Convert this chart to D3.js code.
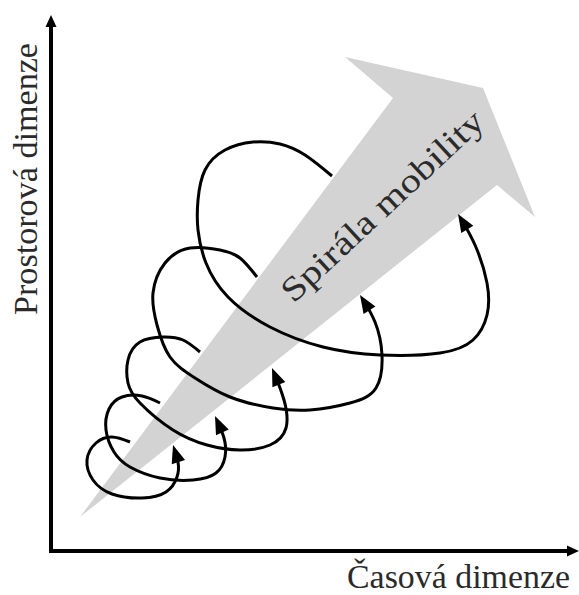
<!DOCTYPE html>
<html>
<head>
<meta charset="utf-8">
<script src="https://cdn.jsdelivr.net/npm/d3@7"></script>
<style>
  html, body { margin: 0; padding: 0; background: #ffffff; }
  svg { display: block; }
</style>
</head>
<body>
<script>
// ---- data (time t, space s) in diagram units measured from the axis origin ----
const xAxisTitle = "Časová dimenze";
const yAxisTitle = "Prostorová dimenze";
const arrowLabel = "Spirála mobility";

const domainT = [0, 527];
const domainS = [0, 536];

// big grey "mobility" arrow outline
const mobilityArrow = [[29, 34], [342, 453], [294, 494], [432, 463], [484, 334], [446, 366]];

// five spiral loops, each ending in an arrow head
const loop1 = [[79,109],[61,114],[45,108],[36,91],[42,71],[61,57],[91,53],[115,59],[126,74],[127,89],[122,106]];
const loop2 = [[109,148],[91,155],[71,154],[58,142],[55,121],[63,99],[79,84],[109,73],[142,71],[165,78],[174,94],[173,113],[164,135]];
const loop3 = [[149,199],[132,211],[112,214],[89,209],[77,191],[77,168],[89,148],[122,121],[156,106],[189,101],[219,106],[235,123],[233,151],[221,183]];
const loop4 = [[206,274],[189,293],[169,301],[139,303],[114,288],[102,258],[106,226],[119,194],[144,173],[179,154],[222,143],[259,141],[299,148],[325,163],[331,196],[324,229],[309,256]];
const loop5 = [[281,375],[254,396],[229,407],[202,409],[174,401],[154,381],[147,351],[147,321],[155,288],[177,254],[219,224],[272,204],[329,196],[389,198],[422,211],[436,236],[436,268],[424,306],[407,337]];
const loops = [loop1, loop2, loop3, loop4, loop5];

// ---- drawing ----
const W = 579, H = 595;
const svg = d3.select("body").append("svg").attr("width", W).attr("height", H);

const x = d3.scaleLinear().domain(domainT).range([51, 578]);
const y = d3.scaleLinear().domain(domainS).range([551, 15]);

const serif = "'Liberation Serif', 'DejaVu Serif', serif";

// grey arrow
svg.append("path")
  .attr("d", "M" + mobilityArrow.map(p => x(p[0]) + "," + y(p[1])).join("L") + "Z")
  .attr("fill", "#d3d3d3");

// arrow label
const c = [390, 214];
svg.append("text")
  .attr("transform", `translate(${c[0]},${c[1]}) rotate(-43)`)
  .attr("text-anchor", "middle")
  .attr("font-family", serif)
  .attr("font-size", 34)
  .attr("fill", "#2a2a2a")
  .attr("textLength", 264)
  .attr("lengthAdjust", "spacingAndGlyphs")
  .text(arrowLabel);

function arrowHead(g, tip, angle, len, half) {
  g.append("path")
    .attr("d", `M0,0L${-len},${-half}L${-len},${half}Z`)
    .attr("transform", `translate(${tip.x},${tip.y}) rotate(${angle * 180 / Math.PI})`)
    .attr("fill", "#000");
}

// spiral loops
const line = d3.line().x(d => x(d[0])).y(d => y(d[1])).curve(d3.curveNatural);
const gl = svg.append("g");
loops.forEach(lp => {
  const p = gl.append("path")
    .attr("d", line(lp))
    .attr("fill", "none")
    .attr("stroke", "#000")
    .attr("stroke-width", 3)
    .attr("stroke-linecap", "butt");
  const node = p.node();
  const L = node.getTotalLength();
  p.attr("stroke-dasharray", `${L - 8} ${L + 10}`);
  const tip = node.getPointAtLength(L);
  const back = node.getPointAtLength(L - 14);
  const ang = Math.atan2(tip.y - back.y, tip.x - back.x);
  arrowHead(gl, tip, ang, 18, 7);
});

// axes
const ga = svg.append("g");
ga.append("path")
  .attr("d", `M${x(0)},${y(domainS[1]) + 8}L${x(0)},${y(0)}L${x(domainT[1]) - 8},${y(0)}`)
  .attr("fill", "none")
  .attr("stroke", "#000")
  .attr("stroke-width", 4)
  .attr("stroke-linejoin", "miter");
arrowHead(ga, {x: x(0), y: y(domainS[1])}, -Math.PI / 2, 12, 5.5);
arrowHead(ga, {x: x(domainT[1]) + 1, y: y(0)}, 0, 12, 5.5);

// axis titles
svg.append("text")
  .attr("transform", `translate(37,315) rotate(-90)`)
  .attr("font-family", serif)
  .attr("font-size", 34)
  .attr("fill", "#2a2a2a")
  .attr("textLength", 272)
  .attr("lengthAdjust", "spacingAndGlyphs")
  .text(yAxisTitle);

svg.append("text")
  .attr("x", 347)
  .attr("y", 588)
  .attr("font-family", serif)
  .attr("font-size", 34)
  .attr("fill", "#2a2a2a")
  .attr("textLength", 223)
  .attr("lengthAdjust", "spacingAndGlyphs")
  .text(xAxisTitle);
</script>
</body>
</html>
